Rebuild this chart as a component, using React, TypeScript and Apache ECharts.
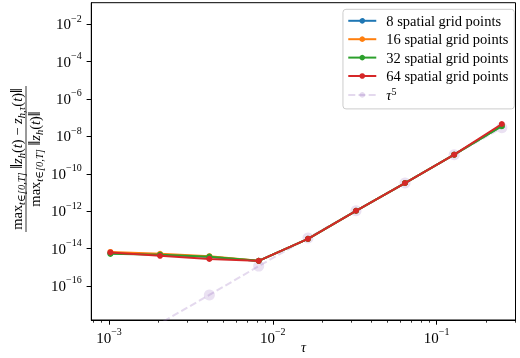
import React, { useEffect, useRef } from "react";
import * as echarts from "echarts";

// time step sizes (x values)
const tau = [1.02e-3, 2.05e-3, 4.1e-3, 8.2e-3, 0.0164, 0.0322, 0.0641, 0.128, 0.25];

// relative errors per spatial resolution
const err8 = [5.6e-15, 4.8e-15, 3.6e-15, 2.2e-15, 3.3e-14, 1.05e-12, 3.2e-11, 1.05e-9, 3.6e-8];
const err16 = [6.6e-15, 5.2e-15, 3.9e-15, 2.2e-15, 3.3e-14, 1.05e-12, 3.2e-11, 1.05e-9, 3.8e-8];
const err32 = [5.2e-15, 4.7e-15, 3.7e-15, 2.2e-15, 3.3e-14, 1.05e-12, 3.2e-11, 1.05e-9, 3.5e-8];
const err64 = [6.2e-15, 4.1e-15, 2.8e-15, 2.2e-15, 3.3e-14, 1.05e-12, 3.2e-11, 1.05e-9, 4.6e-8];
// tau^5 reference line values
const refTau5 = [3.1e-20, 1.0e-18, 3.3e-17, 1.15e-15, 3.7e-14, 1.05e-12, 3.2e-11, 1.05e-9, 2.9e-8];

const seriesNames = ["8 spatial grid points", "16 spatial grid points", "32 spatial grid points", "64 spatial grid points"];
const seriesColors = ["#1f77b4", "#ff7f0e", "#2ca02c", "#d62728"];
const refName = "tau5";

// axis ticks
const xMajorTicks = [1e-3, 1e-2, 1e-1];
const xMinorTicks = [8e-4, 9e-4, 2e-3, 3e-3, 4e-3, 5e-3, 6e-3, 7e-3, 8e-3, 9e-3, 2e-2, 3e-2, 4e-2, 5e-2, 6e-2, 7e-2, 8e-2, 9e-2, 2e-1, 3e-1];
const yMajorTicks = [1e-16, 1e-14, 1e-12, 1e-10, 1e-8, 1e-6, 1e-4, 1e-2];

const X_MIN = 7.8e-4;
const X_MAX = 0.303;
const Y_MIN = 1.51e-18;
const Y_MAX = 0.141;

const FONT = "'Liberation Serif', 'DejaVu Serif', serif";

const powLabel = (v: number) => {
  const e = Math.round(Math.log10(v));
  return `{b|10}{s|${e < 0 ? "\u2212" : ""}${Math.abs(e)}}`;
};

const powRich = {
  b: { fontSize: 15, fontFamily: FONT, color: "#000", lineHeight: 22, verticalAlign: "middle" },
  s: { fontSize: 10, fontFamily: FONT, color: "#000", lineHeight: 10, verticalAlign: "top" },
};

const mathRich = {
  n: { fontSize: 14.5, fontFamily: FONT, color: "#000", lineHeight: 21, verticalAlign: "middle" },
  d: { fontSize: 17, fontFamily: FONT, color: "#000", lineHeight: 21, verticalAlign: "middle" },
  i: { fontSize: 14.5, fontFamily: FONT, fontStyle: "italic", color: "#000", lineHeight: 21, verticalAlign: "middle" },
  s: { fontSize: 10.5, fontFamily: FONT, fontStyle: "italic", color: "#000", lineHeight: 10, verticalAlign: "bottom" },
};

export default function App() {
  const ref = useRef<HTMLDivElement>(null);

  useEffect(() => {
    if (!ref.current) return;
    const chart = echarts.init(ref.current, undefined, { renderer: "svg" });

    const dataSeries = [err8, err16, err32, err64].map((vals, k) => ({
      name: seriesNames[k],
      type: "line",
      data: tau.map((t, i) => [t, vals[i]]),
      symbol: "circle",
      symbolSize: 6,
      showSymbol: true,
      lineStyle: { color: seriesColors[k], width: 2 },
      itemStyle: { color: seriesColors[k] },
      z: 3 + k,
    }));

    const numerator =
      "{n|max}{s|t\u2208[0,T]}{n| }{d|\u2016}{i|z}{s|h}{n|(}{i|t}{n|) \u2212 }{i|z}{s|h,\u03c4}{n|(}{i|t}{n|)}{d|\u2016}";
    const denominator = "{n|max}{s|t\u2208[0,T]}{n| }{d|\u2016}{i|z}{s|h}{n|(}{i|t}{n|)}{d|\u2016}";

    chart.setOption({
      animation: false,
      grid: {
        left: 91.3,
        right: 4.5,
        top: 2.7,
        bottom: 38,
        show: true,
        borderColor: "#000",
        borderWidth: 1,
        backgroundColor: "transparent",
        containLabel: false,
        outerBoundsMode: "none",
      },
      legend: {
        orient: "vertical",
        right: 5.7,
        top: 9.3,
        itemWidth: 28,
        itemHeight: 7,
        itemGap: 3.4,
        padding: [4, 6, 6.5, 4.3],
        backgroundColor: "rgba(255,255,255,0.8)",
        borderColor: "#cccccc",
        borderWidth: 1,
        borderRadius: 3,
        data: [...seriesNames, { name: refName, itemStyle: { opacity: 0.25 } }],
        formatter: (name: string) => (name === refName ? "{i|\u03c4}{p|5}" : name),
        textStyle: {
          fontFamily: FONT,
          fontSize: 14.5,
          color: "#000",
          padding: [0, 0, 0, 5],
          rich: {
            i: { fontFamily: FONT, fontSize: 14.5, fontStyle: "italic", color: "#000", lineHeight: 16, verticalAlign: "middle" },
            p: { fontFamily: FONT, fontSize: 10, color: "#000", lineHeight: 10, verticalAlign: "top" },
          },
        },
      },
      xAxis: [
        {
          type: "log",
          logBase: 10,
          min: X_MIN,
          max: X_MAX,
          gridIndex: 0,
          position: "bottom",
          axisLine: { show: true, lineStyle: { color: "#000", width: 1 } },
          axisTick: { show: true, inside: false, length: 4.7, customValues: xMajorTicks, lineStyle: { color: "#000", width: 1 } },
          axisLabel: { show: true, customValues: xMajorTicks, margin: 6.5, formatter: powLabel, rich: powRich },
          splitLine: { show: false },
          minorTick: { show: false },
          name: "\u03c4",
          nameLocation: "middle",
          nameGap: 20,
          nameMoveOverlap: false,
          nameTextStyle: { fontFamily: FONT, fontStyle: "italic", fontSize: 14, color: "#000" },
        },
        {
          type: "log",
          logBase: 10,
          min: X_MIN,
          max: X_MAX,
          gridIndex: 0,
          position: "bottom",
          axisLine: { show: false },
          axisTick: { show: true, inside: false, length: 2.7, customValues: xMinorTicks, lineStyle: { color: "#000", width: 0.8 } },
          axisLabel: { show: false },
          splitLine: { show: false },
        },
      ],
      yAxis: {
        type: "log",
        logBase: 10,
        min: Y_MIN,
        max: Y_MAX,
        axisLine: { show: true, lineStyle: { color: "#000", width: 1 } },
        axisTick: { show: true, inside: false, length: 4.7, customValues: yMajorTicks, lineStyle: { color: "#000", width: 1 } },
        axisLabel: { show: true, customValues: yMajorTicks, margin: 9.6, formatter: powLabel, rich: powRich },
        splitLine: { show: false },
        minorTick: { show: false },
      },
      series: [
        {
          name: refName,
          type: "line",
          data: tau.map((t, i) => [t, refTau5[i]]),
          symbol: "circle",
          symbolSize: 11,
          showSymbol: true,
          clip: true,
          lineStyle: { color: "#9467bd", width: 2, type: [7, 3.2], opacity: 0.25 },
          itemStyle: { color: "#9467bd", opacity: 0.2 },
          z: 2,
        },
        ...dataSeries,
      ],
      graphic: [
        {
          type: "text",
          x: 16.5,
          y: 159,
          rotation: Math.PI / 2,
          style: { text: numerator, rich: mathRich, align: "center", verticalAlign: "middle" },
        },
        {
          type: "line",
          shape: { x1: 26, y1: 86, x2: 26, y2: 232 },
          style: { stroke: "#000", lineWidth: 0.8 },
        },
        {
          type: "text",
          x: 34.5,
          y: 159,
          rotation: Math.PI / 2,
          style: { text: denominator, rich: mathRich, align: "center", verticalAlign: "middle" },
        },
      ],
    });

    return () => chart.dispose();
  }, []);

  return <div ref={ref} style={{ position: "fixed", left: 0, top: 0, width: 520, height: 358 }} />;
}
